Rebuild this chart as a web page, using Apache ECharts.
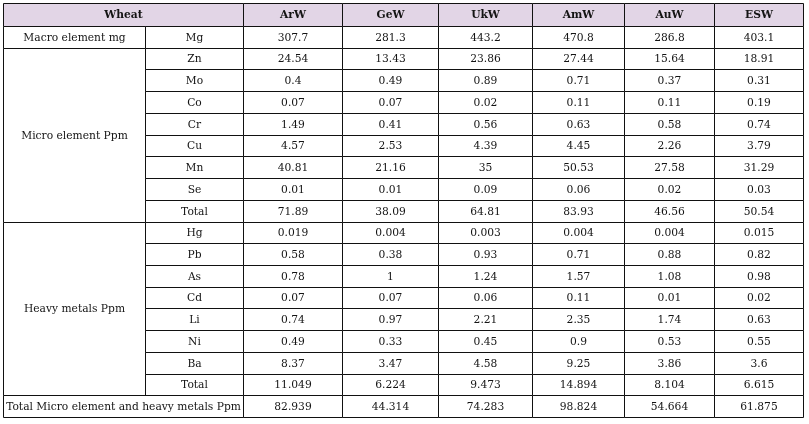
<!DOCTYPE html>
<html><head><meta charset="utf-8">
<script src="https://cdn.jsdelivr.net/npm/echarts@6/dist/echarts.min.js"></script>
<style>html,body{margin:0;padding:0;background:#fff}#c{width:809px;height:424px}</style>
</head><body><div id="c"></div>
<script>
// ---------- data ----------
const cornerTitle = 'Wheat';
const samples = ['ArW', 'GeW', 'UkW', 'AmW', 'AuW', 'ESW'];
const groupNames = ['Macro element mg', 'Micro element Ppm', 'Heavy metals Ppm'];
const macroElements = ['Mg'];
const microElements = ['Zn', 'Mo', 'Co', 'Cr', 'Cu', 'Mn', 'Se', 'Total'];
const heavyElements = ['Hg', 'Pb', 'As', 'Cd', 'Li', 'Ni', 'Ba', 'Total'];
const grandTotalLabel = 'Total Micro element and heavy metals Ppm';
// rows: Mg | Zn Mo Co Cr Cu Mn Se Total | Hg Pb As Cd Li Ni Ba Total | grand total
const ArW = [307.7, 24.54, 0.4, 0.07, 1.49, 4.57, 40.81, 0.01, 71.89, 0.019, 0.58, 0.78, 0.07, 0.74, 0.49, 8.37, 11.049, 82.939];
const GeW = [281.3, 13.43, 0.49, 0.07, 0.41, 2.53, 21.16, 0.01, 38.09, 0.004, 0.38, 1, 0.07, 0.97, 0.33, 3.47, 6.224, 44.314];
const UkW = [443.2, 23.86, 0.89, 0.02, 0.56, 4.39, 35, 0.09, 64.81, 0.003, 0.93, 1.24, 0.06, 2.21, 0.45, 4.58, 9.473, 74.283];
const AmW = [470.8, 27.44, 0.71, 0.11, 0.63, 4.45, 50.53, 0.06, 83.93, 0.004, 0.71, 1.57, 0.11, 2.35, 0.9, 9.25, 14.894, 98.824];
const AuW = [286.8, 15.64, 0.37, 0.11, 0.58, 2.26, 27.58, 0.02, 46.56, 0.004, 0.88, 1.08, 0.01, 1.74, 0.53, 3.86, 8.104, 54.664];
const ESW = [403.1, 18.91, 0.31, 0.19, 0.74, 3.79, 31.29, 0.03, 50.54, 0.015, 0.82, 0.98, 0.02, 0.63, 0.55, 3.6, 6.615, 61.875];
const sampleValues = [ArW, GeW, UkW, AmW, AuW, ESW];

// ---------- layout (table units) ----------
const TABLE_W = 800, TABLE_H = 414, HEADER_H = 23;
const COL_EDGES = [0, 142, 240, 339, 435, 529, 621, 711, 800];
const BODY_ROWS = macroElements.length + microElements.length + heavyElements.length + 1;
const ROW_H = (TABLE_H - HEADER_H) / BODY_ROWS;
function rowEdge(i) { return i === 0 ? 0 : HEADER_H + (i - 1) * ROW_H; }

const cells = [];
function addCell(c0, c1, r0, r1, text, kind) {
  cells.push({ value: [COL_EDGES[c0], COL_EDGES[c1], rowEdge(r0), rowEdge(r1)], text: String(text), kind: kind });
}
// header
addCell(0, 2, 0, 1, cornerTitle, 'head');
samples.forEach((s, i) => addCell(i + 2, i + 3, 0, 1, s, 'head'));
// groups
const groups = [macroElements, microElements, heavyElements];
let r = 1;
groups.forEach((els, g) => {
  addCell(0, 1, r, r + els.length, groupNames[g], 'body');
  els.forEach((e, k) => addCell(1, 2, r + k, r + k + 1, e, 'body'));
  r += els.length;
});
addCell(0, 2, r, r + 1, grandTotalLabel, 'body');
// values
sampleValues.forEach((vals, s) => {
  vals.forEach((v, k) => addCell(s + 2, s + 3, k + 1, k + 2, v, 'body'));
});

const chart = echarts.init(document.getElementById('c'));
chart.setOption({
  animation: false,
  grid: { left: 3, top: 3, width: TABLE_W, height: TABLE_H },
  xAxis: { type: 'value', min: 0, max: TABLE_W, show: false },
  yAxis: { type: 'value', min: 0, max: TABLE_H, inverse: true, show: false },
  series: [{
    type: 'custom',
    silent: true,
    data: cells.map(c => c.value),
    renderItem: function (params, api) {
      const cell = cells[params.dataIndex];
      const p0 = api.coord([api.value(0), api.value(2)]);
      const p1 = api.coord([api.value(1), api.value(3)]);
      const x0 = Math.round(Math.min(p0[0], p1[0])) + 0.5;
      const x1 = Math.round(Math.max(p0[0], p1[0])) + 0.5;
      const y0 = Math.round(Math.min(p0[1], p1[1])) + 0.5;
      const y1 = Math.round(Math.max(p0[1], p1[1])) + 0.5;
      const head = cell.kind === 'head';
      return {
        type: 'group',
        children: [
          { type: 'rect', shape: { x: x0, y: y0, width: x1 - x0, height: y1 - y0 },
            style: { fill: head ? '#e2d5e6' : '#ffffff', stroke: '#111111', lineWidth: 1 } },
          { type: 'text', style: {
              text: cell.text, x: (x0 + x1) / 2, y: (y0 + y1) / 2 + 0.5,
              align: 'center', verticalAlign: 'middle',
              fill: '#141414', fontSize: 10.7, fontFamily: 'DejaVu Serif',
              fontWeight: head ? 'bold' : 'normal' } }
        ]
      };
    }
  }]
});
</script></body></html>
